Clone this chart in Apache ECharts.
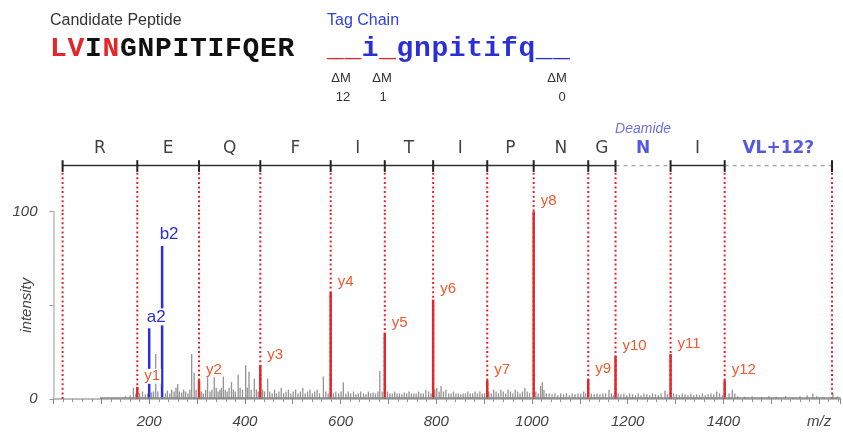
<!DOCTYPE html>
<html>
<head>
<meta charset="utf-8">
<script src="https://cdn.jsdelivr.net/npm/echarts@6/dist/echarts.min.js"></script>
<style>
  html, body { margin: 0; padding: 0; background: #fff; }
  #chart { width: 843px; height: 435px; }
</style>
</head>
<body>
<div id="chart"></div>
<script>
// fragment boundaries (m/z) of the y-ion ladder, from water to VL+12
const boundaries = [19.02, 175.12, 304.16, 432.22, 579.29, 692.37, 793.42, 906.50, 1003.55, 1117.60, 1174.62, 1289.65, 1402.73, 1627];
const residues = ['R', 'E', 'Q', 'F', 'I', 'T', 'I', 'P', 'N', 'G', 'N', 'I', 'VL+12?'];
const residueKind = ['seq', 'seq', 'seq', 'seq', 'seq', 'seq', 'seq', 'seq', 'seq', 'seq', 'mod', 'seq', 'mod'];

const yIonNames = ['y1', 'y2', 'y3', 'y4', 'y5', 'y6', 'y7', 'y8', 'y9', 'y10', 'y11', 'y12'];
const yIonMz = [175.12, 304.16, 432.22, 579.29, 692.37, 793.42, 906.50, 1003.55, 1117.60, 1174.62, 1289.65, 1402.73];
const yIonInt = [6.5, 10, 18, 57, 35, 53, 10, 100, 10.5, 23, 24, 10];

const bIonNames = ['a2', 'b2'];
const bIonMz = [200, 227];
const bIonInt = [37.7, 81.6];

// unassigned peaks
const noiseMz = [150, 160, 167, 172, 180, 186, 192, 197, 205, 209, 213.6, 218,
  234, 238, 243, 247, 252, 256, 259.5, 263, 268, 272, 276, 281, 285, 288.8, 294, 298,
  309, 313, 318, 322, 327, 331, 336, 340, 344, 348, 351, 355, 359, 363, 367, 372, 376, 380, 386, 390, 395,
  401.6, 405, 408.6, 413, 419.7, 424, 428, 437, 441, 447.6, 452, 457,
  462, 466, 471, 476, 481, 486, 491, 496, 501, 506, 511, 516, 521, 526, 531, 536, 541, 546, 551, 556, 564, 569, 574,
  585, 590, 596, 601, 605.7, 611, 616, 621, 627, 632, 637, 642, 648, 653, 658, 663, 668, 673, 678, 682, 687,
  698, 703, 708, 713, 718, 723, 728, 733, 738, 743, 748, 753, 758, 763, 768, 773, 778, 784, 789,
  797, 801, 806, 810, 815, 820, 826, 831, 836, 841, 846, 851, 856, 861, 866, 871, 876, 881, 886, 891, 896, 901,
  910, 915, 920, 925, 930, 935, 940, 945, 950, 955, 960, 965, 970, 975, 980, 985, 990, 995,
  1008, 1013, 1018, 1021.6, 1025, 1030, 1036, 1042, 1048, 1054, 1060, 1066, 1072, 1078, 1084, 1090, 1096, 1102, 1108, 1112,
  1124, 1130, 1136, 1142, 1148, 1154, 1161, 1166, 1170,
  1180, 1186, 1192, 1198, 1204, 1210, 1216, 1222, 1228, 1234, 1240, 1246, 1252, 1258, 1264, 1270, 1278, 1283,
  1296, 1302, 1308, 1314, 1320, 1326, 1332, 1338, 1344, 1350, 1356, 1362, 1368, 1374, 1380, 1386, 1392, 1398,
  1412, 1418.6, 1424, 1430, 1445, 1460, 1480, 1495, 1510, 1530, 1545, 1560, 1575, 1587, 1595, 1610, 1629, 1638];
const noiseInt = [1.5, 2, 6, 3, 3, 4, 2.5, 3, 3.5, 4, 24, 4,
  3, 4.5, 3, 5, 4, 6, 8, 4, 3.5, 5, 4, 3, 5, 24, 14, 5,
  4, 3, 5, 12, 4, 5, 13, 6, 4, 5, 6, 12, 5, 4, 6, 9, 5, 4, 13, 6, 5,
  18, 6, 14.5, 5, 11, 5, 4, 5, 4, 11, 4, 3,
  5, 3, 4, 6, 3, 4, 5, 3, 4, 5, 3, 4, 6, 3, 4, 5, 3, 4, 5, 3, 12, 4, 3,
  3, 4, 3, 4, 9, 3, 4, 3, 4, 2.5, 3, 4, 3, 2.5, 4, 3, 3.5, 3, 4, 15, 4,
  4, 3, 3, 4, 3, 3, 2.5, 3.5, 3, 4, 3, 3, 3, 4, 3, 3, 5, 4, 3,
  5, 6, 4, 7, 4, 5, 3, 3, 4, 3, 3, 2.5, 3, 3, 4, 3, 3, 4, 3, 4, 3, 3,
  4, 3, 5, 4, 3, 5, 4, 3, 5, 4, 3, 5, 4, 3, 4, 6, 4, 3,
  4, 3, 7, 9, 5, 3, 3, 2.5, 3, 2, 3, 2.5, 3, 2, 3, 2.5, 3, 3, 4, 3,
  3, 2.5, 3, 2.5, 3, 3, 5, 3, 2,
  3, 2.5, 3, 2, 3, 2.5, 2, 3, 2, 3, 2.5, 2, 3, 2.5, 2, 3, 4.5, 2.5,
  3, 2.5, 2, 3, 2.5, 2, 3, 2, 2.5, 2, 3, 2, 2.5, 3, 2.5, 4, 3, 2,
  3, 5, 3, 1.5, 1.2, 1.5, 1, 1.5, 1.2, 1.5, 1, 1.5, 2, 3, 1.5, 1, 3, 1.5];

const RED = '#e3262a';
const RED_LABEL = '#ef5a30';
const BLUE = '#2b2fd6';
const GRAY = '#939393';
const sans = '"Liberation Sans", Arial, sans-serif';

const chart = echarts.init(document.getElementById('chart'), null, { renderer: 'canvas' });

function vline(yFrom, yTo) {
  return function (params, api) {
    const a = api.coord([api.value(0), yFrom]);
    const b = api.coord([api.value(0), yTo]);
    return {
      type: 'line',
      shape: { x1: a[0], y1: a[1], x2: b[0], y2: b[1] },
      style: { stroke: RED, lineWidth: 2, lineDash: [2, 2.6] }
    };
  };
}

function stick(width, color) {
  return function (params, api) {
    const base = api.coord([api.value(0), 0]);
    const top = api.coord([api.value(0), api.value(1)]);
    return {
      type: 'rect',
      shape: { x: base[0] - width / 2, y: top[1], width: width, height: base[1] - top[1] },
      style: { fill: color }
    };
  };
}

const segments = residues.map((r, i) => [boundaries[i], boundaries[i + 1], residueKind[i] === 'mod' ? 1 : 0]);
const residueLabels = residues.map((r, i) => ({
  value: [(boundaries[i] + boundaries[i + 1]) / 2, 70],
  name: r,
  label: residueKind[i] === 'mod' ? { color: BLUE, fontWeight: 'bold' } : {}
}));

const ionLabels = yIonNames.map((n, i) => [yIonMz[i], yIonInt[i], n, 0])
  .concat(bIonNames.map((n, i) => [bIonMz[i], bIonInt[i], n, 1]));

chart.setOption({
  animation: false,
  graphic: [
    { type: 'text', x: 50, y: 13, style: { text: 'Candidate Peptide', font: '16px ' + sans, fill: '#333' } },
    { type: 'text', x: 327, y: 13, style: { text: 'Tag Chain', font: '16px ' + sans, fill: '#3340dd' } }
  ].concat('LVINGNPITIFQER'.split('').map((c, i) => ({
    type: 'text', x: 50 + i * 17.5, y: 35,
    style: { text: c, font: 'bold 28px "Liberation Mono", monospace', fill: (i < 2 || i === 3) ? RED : '#111' }
  }))).concat('__i_gnpitifq__'.split('').map((c, i) => ({
    type: 'text', x: 327 + i * 17.4, y: 35,
    style: { text: c, font: 'bold 28px "Liberation Mono", monospace', fill: (i < 2 || i === 3) ? RED : BLUE }
  }))).concat([
    ['ΔM', 341, 78], ['ΔM', 382, 78], ['ΔM', 557, 78], ['12', 343, 97], ['1', 383, 97], ['0', 562, 97]
  ].map(t => ({
    type: 'text', x: t[1], y: t[2],
    style: { text: t[0], font: '13px ' + sans, fill: '#333', align: 'center', verticalAlign: 'middle', textAlign: 'center', textVerticalAlign: 'middle' }
  }))),
  grid: [
    { left: 53.5, right: 2.4, top: 211.5, bottom: 36, containLabel: false, outerBoundsMode: 'none' },
    { left: 53.5, right: 2.4, top: 121.5, bottom: 223.5, containLabel: false, outerBoundsMode: 'none' }
  ],
  xAxis: [
    {
      gridIndex: 0, type: 'value', min: 0, max: 1645, interval: 100,
      axisLine: { lineStyle: { color: '#a8a8a8', width: 1.5 } },
      axisTick: { length: 5, lineStyle: { color: '#888' } },
      minorTick: { show: true, splitNumber: 5, length: 3, lineStyle: { color: '#999' } },
      splitLine: { show: false },
      axisLabel: {
        margin: 15, fontStyle: 'italic', fontSize: 15, fontFamily: sans, color: '#444',
        formatter: v => (v === 1600 ? 'm/z' : (v > 0 && v % 200 === 0 ? String(v) : ''))
      }
    },
    { gridIndex: 1, type: 'value', min: 0, max: 1645, show: false }
  ],
  yAxis: [
    {
      gridIndex: 0, type: 'value', min: 0, max: 100, interval: 50, offset: 5,
      name: 'intensity', nameLocation: 'middle', nameGap: 14, nameMoveOverlap: false,
      nameTextStyle: { fontStyle: 'italic', fontSize: 15, fontFamily: sans, color: '#444' },
      axisLine: { show: true, lineStyle: { color: '#bbb', width: 1.5 } },
      axisTick: { show: true, length: 4, lineStyle: { color: '#999' } },
      splitLine: { show: false },
      axisLabel: {
        margin: 11, fontStyle: 'italic', fontSize: 15, fontFamily: sans, color: '#444',
        formatter: v => (v === 50 ? '' : String(v))
      }
    },
    { gridIndex: 1, type: 'value', min: 0, max: 100, show: false }
  ],
  series: [
    {
      type: 'custom', xAxisIndex: 1, yAxisIndex: 1, encode: { x: 0, y: 1 },
      data: boundaries.map(m => [m, 0]), renderItem: vline(0, 44)
    },
    {
      type: 'custom', xAxisIndex: 1, yAxisIndex: 1, encode: { x: [0, 1] },
      data: segments,
      renderItem: function (params, api) {
        const a = api.coord([api.value(0), 51]);
        const b = api.coord([api.value(1), 51]);
        const dashed = api.value(2) === 1;
        return {
          type: 'line',
          shape: { x1: a[0], y1: a[1], x2: b[0], y2: b[1] },
          style: dashed ? { stroke: '#aaa', lineWidth: 1.5, lineDash: [4, 4] } : { stroke: '#333', lineWidth: 1.5 }
        };
      }
    },
    {
      type: 'custom', xAxisIndex: 1, yAxisIndex: 1, encode: { x: 0, y: 1 },
      data: boundaries.map(m => [m, 0]),
      renderItem: function (params, api) {
        const a = api.coord([api.value(0), 44]);
        const b = api.coord([api.value(0), 57]);
        return { type: 'line', shape: { x1: a[0], y1: a[1], x2: b[0], y2: b[1] }, style: { stroke: '#222', lineWidth: 2 } };
      }
    },
    {
      type: 'scatter', xAxisIndex: 1, yAxisIndex: 1, symbolSize: 0,
      data: residueLabels,
      label: { show: true, position: 'inside', formatter: '{b}', fontSize: 17, fontFamily: '"DejaVu Sans", sans-serif', color: '#111' }
    },
    {
      type: 'scatter', xAxisIndex: 1, yAxisIndex: 1, symbolSize: 0,
      data: [{ value: [(boundaries[10] + boundaries[11]) / 2, 92], name: 'Deamide' }],
      label: { show: true, position: 'inside', formatter: '{b}', fontSize: 14, fontStyle: 'italic', fontFamily: sans, color: '#4a4ad8' }
    },
    {
      type: 'line', xAxisIndex: 0, yAxisIndex: 0, symbol: 'none',
      data: [[97, 0.6], [1645, 0.6]], lineStyle: { color: '#888', width: 1.5 }
    },
    {
      type: 'custom', xAxisIndex: 0, yAxisIndex: 0, encode: { x: 0, y: 1 },
      data: noiseMz.map((m, i) => [m, noiseInt[i]]), renderItem: stick(1.3, GRAY)
    },
    {
      type: 'custom', xAxisIndex: 0, yAxisIndex: 0, encode: { x: 0, y: 1 },
      data: boundaries.map(m => [m, 0]), renderItem: vline(0, 100)
    },
    {
      type: 'custom', xAxisIndex: 0, yAxisIndex: 0, encode: { x: 0, y: 1 },
      data: yIonMz.map((m, i) => [m, yIonInt[i]]), renderItem: stick(2.5, RED)
    },
    {
      type: 'custom', xAxisIndex: 0, yAxisIndex: 0, encode: { x: 0, y: 1 },
      data: bIonMz.map((m, i) => [m, bIonInt[i]]), renderItem: stick(2.5, BLUE)
    },
    {
      type: 'custom', xAxisIndex: 0, yAxisIndex: 0, encode: { x: 0, y: 1 }, z: 10,
      data: ionLabels,
      renderItem: function (params, api) {
        const top = api.coord([api.value(0), api.value(1)]);
        const isB = api.value(3) === 1;
        const name = ionLabels[params.dataIndex][2];
        return {
          type: 'text',
          x: isB ? top[0] + 7 : top[0] + 6,
          y: top[1] - 3,
          style: {
            text: name,
            font: (isB ? '17px ' : '15px ') + sans,
            fill: isB ? BLUE : RED_LABEL,
            align: isB ? 'center' : 'left', textAlign: isB ? 'center' : 'left',
            verticalAlign: 'bottom', textVerticalAlign: 'bottom',
            backgroundColor: '#fff', padding: [0, 1]
          }
        };
      }
    }
  ]
});
</script>
</body>
</html>
